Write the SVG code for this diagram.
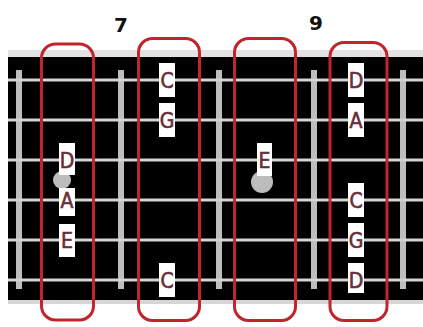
<svg xmlns="http://www.w3.org/2000/svg" width="423" height="327" viewBox="0 0 423 327">
<defs>
<style>
.num{font-family:"DejaVu Sans",sans-serif;font-weight:bold;font-size:20px;fill:#111;text-anchor:middle}
.str{stroke:#d4d4d4;stroke-width:3}
.fret{fill:#bdbdbd}
.box{fill:#fff}
.note{font-family:"DejaVu Sans Condensed","DejaVu Sans",sans-serif;font-size:21px;fill:#6a2d3a;stroke:#6a2d3a;stroke-width:0.6;text-anchor:middle}
.dot{fill:#bcbcbc}
.ring{fill:none;stroke:#c0252c;stroke-width:3}
</style>
</defs>
<rect x="0" y="0" width="423" height="327" fill="#fff"/>
<text class="num" x="121" y="32">7</text>
<text class="num" x="316" y="30">9</text>
<g id="board">
<rect x="8" y="50" width="415" height="7" fill="#e2e2e2"/>
<rect x="8" y="57" width="415" height="243" fill="#000"/>
<rect x="8" y="300" width="415" height="4" fill="#d6d6d6"/>
<rect class="fret" x="16" y="70" width="6" height="219"/>
<rect class="fret" x="118" y="70" width="6" height="219"/>
<rect class="fret" x="216" y="70" width="6" height="219"/>
<rect class="fret" x="311" y="70" width="6" height="219"/>
<rect class="fret" x="400" y="70" width="6" height="219"/>
<line class="str" x1="8" y1="80" x2="423" y2="80"/>
<line class="str" x1="8" y1="120" x2="423" y2="120"/>
<line class="str" x1="8" y1="160" x2="423" y2="160"/>
<line class="str" x1="8" y1="200" x2="423" y2="200"/>
<line class="str" x1="8" y1="240" x2="423" y2="240"/>
<line class="str" x1="8" y1="280" x2="423" y2="280"/>
<circle class="dot" cx="62" cy="180" r="9"/>
<circle class="dot" cx="262" cy="182" r="11"/>
</g>
<g id="col1">
<rect class="box" x="59" y="143" width="16" height="32"/><text class="note" x="67" y="167.5">D</text>
<rect class="box" x="59" y="188" width="16" height="28"/><text class="note" x="67" y="207.5">A</text>
<rect class="box" x="59" y="224" width="16" height="33"/><text class="note" x="67" y="247.5">E</text>
</g>
<g id="col2">
<rect class="box" x="159" y="63" width="16" height="34"/><text class="note" x="167" y="87.5">C</text>
<rect class="box" x="159" y="103" width="16" height="34"/><text class="note" x="167" y="127.5">G</text>
<rect class="box" x="159" y="263" width="16" height="34"/><text class="note" x="167" y="287.5">C</text>
</g>
<g id="col3">
<rect class="box" x="257" y="143" width="15" height="33"/><text class="note" x="264.5" y="167.5">E</text>
</g>
<g id="col4">
<rect class="box" x="348" y="63" width="16" height="34"/><text class="note" x="356" y="87.5">D</text>
<rect class="box" x="348" y="103" width="16" height="34"/><text class="note" x="356" y="127.5">A</text>
<rect class="box" x="348" y="183" width="16" height="34"/><text class="note" x="356" y="207.5">C</text>
<rect class="box" x="348" y="223" width="16" height="34"/><text class="note" x="356" y="247.5">G</text>
<rect class="box" x="348" y="263" width="16" height="30"/><text class="note" x="356" y="287.5">D</text>
</g>
<g id="rings">
<rect class="ring" x="41.5" y="44" width="52" height="276" rx="14" ry="14"/>
<rect class="ring" x="138.5" y="38.5" width="61" height="282" rx="14" ry="14"/>
<rect class="ring" x="234.5" y="38.5" width="61" height="282" rx="14" ry="14"/>
<rect class="ring" x="330" y="42.5" width="57" height="278" rx="14" ry="14"/>
</g>
</svg>
